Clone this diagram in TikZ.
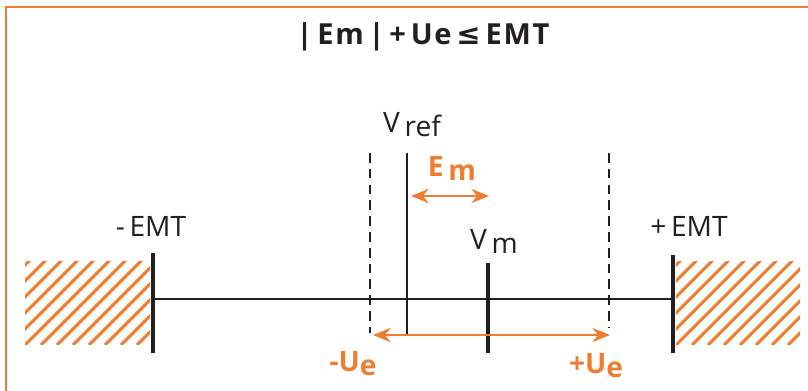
\documentclass[tikz,border=0pt]{standalone}
\usepackage{fontspec}
\setmainfont{Open Sans}
\newfontfamily\symfont{DejaVu Sans}
\usetikzlibrary{positioning, calc, arrows.meta}
\definecolor{emtorange}{HTML}{EE7D31}
\definecolor{emtdark}{HTML}{231F20}
\newcommand{\lowered}[1]{\raisebox{-0.25ex}{#1}}

\begin{document}
\begin{tikzpicture}[
  x=0.02cm, y=-0.02cm,
  bar/.style={draw=emtdark, line width=2pt},
  axis/.style={draw=emtdark, line width=1pt},
  limit/.style={draw=emtdark, line width=1pt, dash pattern=on 5.5pt off 3.5pt},
  span/.style={{Stealth[length=10pt, width=8pt]}-{Stealth[length=10pt, width=8pt]}, draw=emtorange, line width=1.6pt},
  hatch/.style={draw=emtorange, line width=1.7pt},
  frame/.style={draw=emtorange, line width=1.2pt},
  lbl/.style={font=\fontsize{16}{19}\selectfont, text=emtdark, inner sep=0pt, anchor=base},
  olbl/.style={font=\fontsize{16}{19}\selectfont\bfseries, text=emtorange, inner sep=0pt, anchor=base},
  every node/.style={inner sep=0pt}
]
\useasboundingbox (0,0) rectangle (808,391);

%------------------------------------------------
% Frame and title
%------------------------------------------------
\coordinate (frameTL) at (6,7);
\coordinate (frameTR) at (808,7);
\coordinate (frameBL) at (6,391);
\draw[frame] (frameTR) -- (frameTL) -- (frameBL);

\node[anchor=base, font=\fontsize{16.5}{19}\selectfont\bfseries\addfontfeature{LetterSpace=6}, text=emtdark] (title) at (423,45)
  {|\,Em\,|\,+\,Ue\,{\symfont\bfseries ≤}\,EMT};

%------------------------------------------------
% Tolerance zones (hatched)
%------------------------------------------------
\begin{scope}
  \clip (25,262) rectangle (150,345);
  \foreach \i in {-96,-80,...,130}
    \draw[hatch] (25+\i,345) -- ++(100,-100);
\end{scope}
\begin{scope}
  \clip (676,262) rectangle (800,345);
  \foreach \i in {-96,-80,...,130}
    \draw[hatch] (676+\i,345) -- ++(100,-100);
\end{scope}

%------------------------------------------------
% Scale lines
%------------------------------------------------
\coordinate (lowTop) at (153,253);
\coordinate (lowBot) at (153,353);
\coordinate (highTop) at (673,255);
\coordinate (highBot) at (673,353);
\coordinate (axL) at (153,299);
\coordinate (axR) at (673,299);
\coordinate (uloTop) at (370,153);
\coordinate (uloBot) at (370,333);
\coordinate (uhiTop) at (609,153);
\coordinate (uhiBot) at (609,328);
\coordinate (refTop) at (407,153);
\coordinate (refBot) at (407,335);
\coordinate (measTop) at (488,263);
\coordinate (measBot) at (488,353);

\draw[axis] (axL) -- (axR);
\draw[bar] (lowTop) -- (lowBot);
\draw[bar] (highTop) -- (highBot);
\draw[limit] (uloTop) -- (uloBot);
\draw[limit] (uhiTop) -- (uhiBot);
\draw[bar, line width=1.7pt] (refTop) -- (refBot);
\draw[bar] (measTop) -- (measBot);

%------------------------------------------------
% Error and uncertainty spans
%------------------------------------------------
\coordinate (emL) at (411,196);
\coordinate (emR) at (489,196);
\coordinate (ueL) at (373,335);
\coordinate (ueR) at (610,335);
\draw[span] (emL) -- (emR);
\draw[span] (ueL) -- (ueR);

%------------------------------------------------
% Labels
%------------------------------------------------
\node[lbl] (lowLabel) at (151,237) {-\,EMT};
\node[lbl] (highLabel) at (689,237) {+\,EMT};
\node[lbl] (refLabel) at (412,133) {V\,\lowered{ref}};
\node[lbl] (measLabel) at (494,250) {V\,\lowered{m}};
\node[olbl] (emLabel) at (452,177) {E\,\lowered{m}};
\node[olbl] (ueLowLabel) at (353,372) {-U\lowered{e}};
\node[olbl] (ueHighLabel) at (596,374) {+U\lowered{e}};

\end{tikzpicture}
\end{document}
